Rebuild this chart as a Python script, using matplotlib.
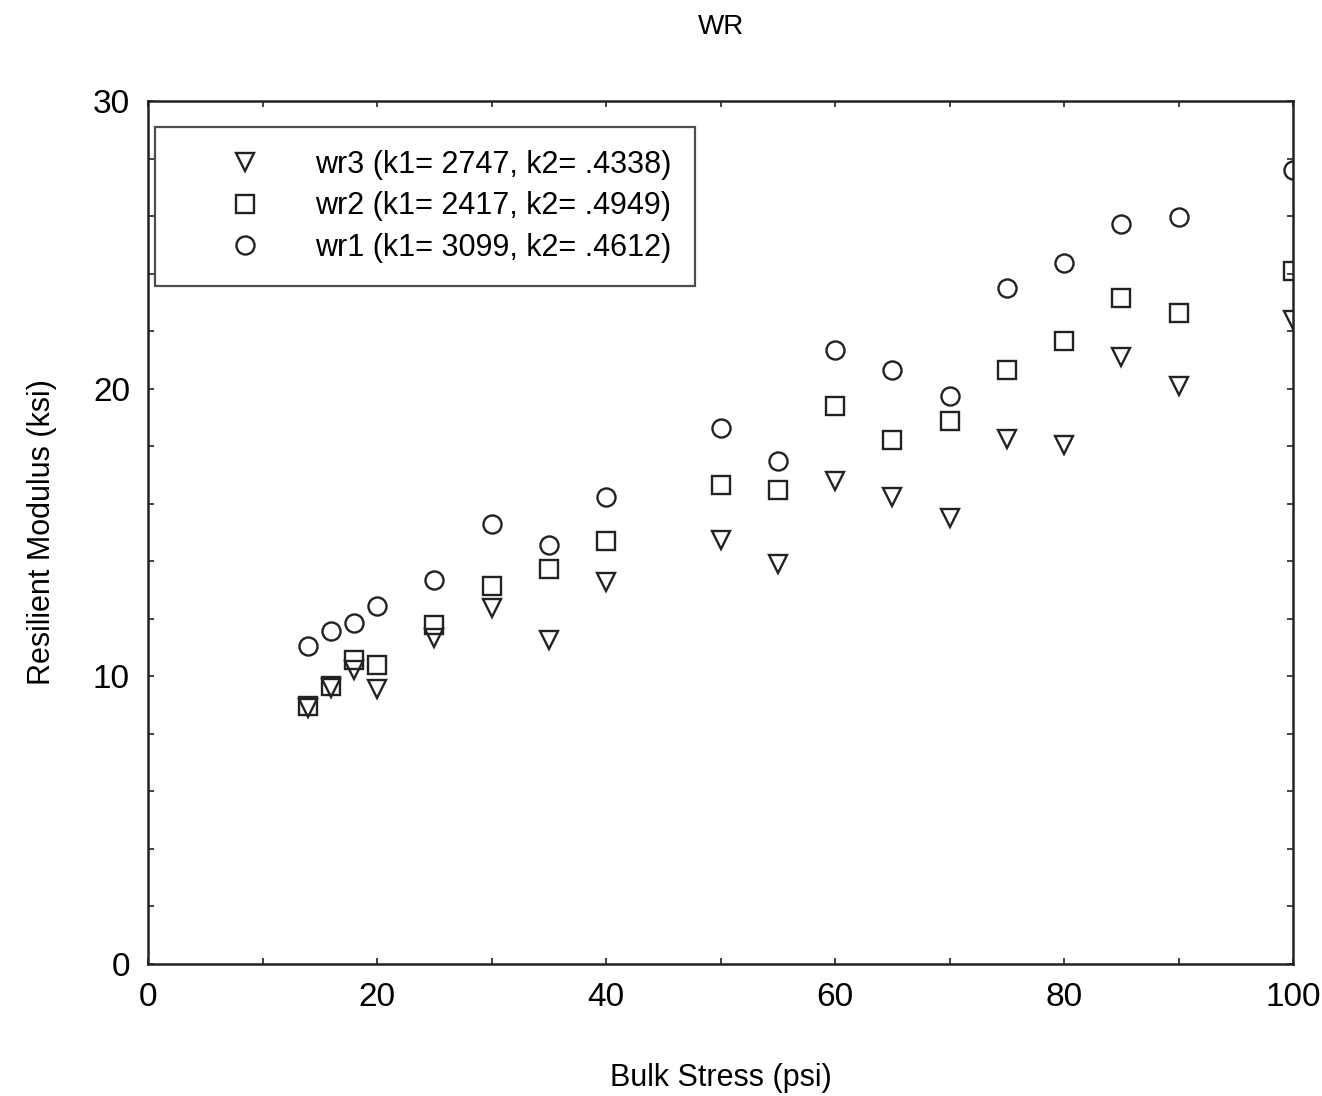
import numpy as np
import matplotlib
matplotlib.use('Agg')
import matplotlib.pyplot as plt
from matplotlib.ticker import MultipleLocator

# =============================================================================
# Data
# =============================================================================
bulk_stress = [14, 16, 18, 20, 25, 30, 35, 40, 50, 55, 60, 65, 70, 75, 80, 85, 90, 100]

wr1 = [11.05, 11.57, 11.85, 12.44, 13.35, 15.29, 14.56, 16.23, 18.63, 17.48,
       21.34, 20.65, 19.74, 23.5, 24.37, 25.72, 25.96, 27.6]
wr2 = [8.97, 9.66, 10.57, 10.39, 11.78, 13.14, 13.73, 14.70, 16.65, 16.48,
       19.4, 18.21, 18.87, 20.65, 21.65, 23.15, 22.63, 24.09]
wr3 = [8.9, 9.59, 10.22, 9.56, 11.33, 12.37, 11.26, 13.28, 14.74, 13.90,
       16.79, 16.23, 15.5, 18.25, 18.04, 21.1, 20.09, 22.38]

labels = ['wr3 (k1= 2747, k2= .4338)',
          'wr2 (k1= 2417, k2= .4949)',
          'wr1 (k1= 3099, k2= .4612)']

# =============================================================================
# Plot
# =============================================================================
plt.rcParams['font.family'] = ['Liberation Sans', 'DejaVu Sans']

fig = plt.figure(figsize=(13.22, 10.96), dpi=100)
ax = fig.add_axes([148 / 1322, 1 - 964 / 1096, (1293 - 148) / 1322, (964 - 101) / 1096])

marker_kw = dict(linestyle='none', markerfacecolor='none', markeredgecolor='#222222',
                 markersize=13, markeredgewidth=1.7)
ax.plot(bulk_stress, wr3, marker='v', label=labels[0], **marker_kw)
ax.plot(bulk_stress, wr2, marker='s', label=labels[1], **marker_kw)
ax.plot(bulk_stress, wr1, marker='o', label=labels[2], **marker_kw)

ax.set_xlim(0, 100)
ax.set_ylim(0, 30)
ax.xaxis.set_major_locator(MultipleLocator(20))
ax.xaxis.set_minor_locator(MultipleLocator(10))
ax.yaxis.set_major_locator(MultipleLocator(10))
ax.yaxis.set_minor_locator(MultipleLocator(2))
ax.tick_params(which='both', direction='in', top=True, right=True,
               length=4, width=1.2, labelsize=24, pad=13, color='#222222')
for side in ax.spines.values():
    side.set_linewidth(1.8)
    side.set_color('#222222')

ax.set_xlabel('Bulk Stress (psi)', fontsize=22, labelpad=36)
ax.set_ylabel('Resilient Modulus (ksi)', fontsize=22, labelpad=26)
ax.set_title('WR', fontsize=20, pad=48)

leg = ax.legend(loc='upper left', bbox_to_anchor=(0.006, 0.97), fontsize=22,
                frameon=True, fancybox=False, edgecolor='#222222',
                handletextpad=0.1, borderpad=0.75, labelspacing=0.38,
                handlelength=4.4, borderaxespad=0)
leg.get_frame().set_linewidth(1.6)

fig.savefig('out.png', dpi=100)
